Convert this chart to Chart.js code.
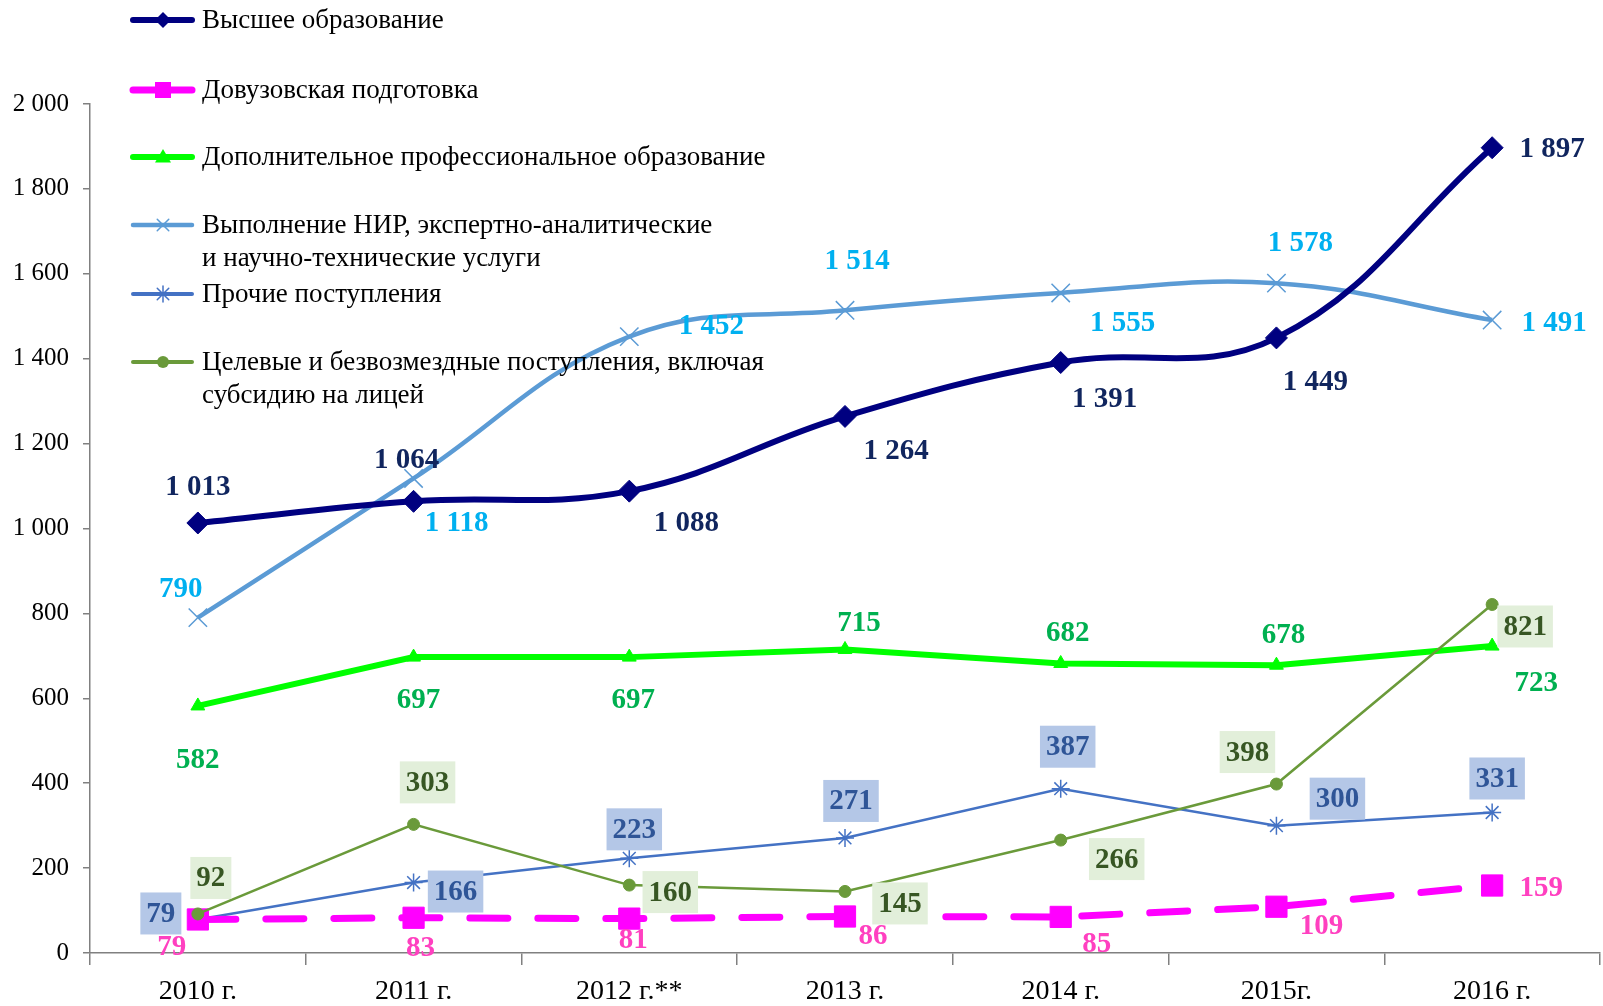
<!DOCTYPE html>
<html>
<head>
<meta charset="utf-8">
<script src="https://cdn.jsdelivr.net/npm/chart.js@4.4.1/dist/chart.umd.min.js"></script>
<style>
  html, body { margin: 0; padding: 0; background: #fff; overflow: hidden; }
  canvas { display: block; }
</style>
</head>
<body>
<canvas id="grafico" width="1603" height="1006"></canvas>
<script>
// --- datos ---
const anios = ['2010 г.', '2011 г.', '2012 г.**', '2013 г.', '2014 г.', '2015г.', '2016 г.'];

const superior = [1013, 1064, 1088, 1264, 1391, 1449, 1897];
const preuniversitaria = [79, 83, 81, 86, 85, 109, 159];
const adicional = [582, 697, 697, 715, 682, 678, 723];
const nir = [790, 1118, 1452, 1514, 1555, 1578, 1491];
const otros = [79, 166, 223, 271, 387, 300, 331];
const metas = [92, 303, 160, 145, 266, 398, 821];

const nombres = [
    ['Высшее образование'],
    ['Довузовская подготовка'],
    ['Дополнительное профессиональное образование'],
    ['Выполнение НИР, экспертно-аналитические', 'и научно-технические услуги'],
    ['Прочие поступления'],
    ['Целевые и безвозмездные поступления, включая', 'субсидию на лицей']
];

const ejeYMin = 0;
const ejeYMax = 2000;
const ejeYPaso = 200;

// desplazamiento de cada etiqueta respecto a su punto (px)
const desplazamientos = [
    [[0, -36], [-7, -42], [57, 31], [51, 34], [44, 36], [39, 44], [60, 1]],
    [[-26, 27], [7, 30], [4, 21], [28, 19], [36, 27], [45, 19], [49, 2]],
    [[0, 54], [5, 42], [4, 42], [14, -27], [7, -31], [7, -31], [44, 36]],
    [[-17, -29], [43, 44], [82, -11], [12, -50], [62, 30], [24, -41], [62, 2]],
    [[-37, -6], [42, 9], [5, -29], [6, -37], [7, -42], [61, -27], [5, -34]],
    [[13, -36], [14, -42], [41, 7], [55, 12], [56, 19], [-29, -32], [33, 22]]
];

const estilos = [
    { linea: '#000080', texto: '#10255E', caja: null, ancho: 6, punto: 'rectRot', radio: 11, tension: 0.4, dash: [], orden: 0 },
    { linea: '#FF00FF', texto: '#FF40C0', caja: null, ancho: 7, punto: 'rect', radio: 15, tension: 0, dash: [38, 30], orden: 2 },
    { linea: '#00FF00', texto: '#00B050', caja: null, ancho: 6, punto: 'triangle', radio: 8, tension: 0, dash: [], orden: 3 },
    { linea: '#5B9BD5', texto: '#00B0F0', caja: null, ancho: 4.5, punto: 'crossRot', radio: 13, tension: 0.4, dash: [], orden: 5 },
    { linea: '#4472C4', texto: '#2F5597', caja: '#B4C7E7', ancho: 2.5, punto: 'star', radio: 9, tension: 0, dash: [], orden: 4 },
    { linea: '#6A9A3A', texto: '#375623', caja: '#E2EFDA', ancho: 2.5, punto: 'circle', radio: 6, tension: 0, dash: [], orden: 1 }
];

const legendaY = [[20], [90], [157], [225, 258], [294], [362, 395]];

const fuente = '"Liberation Serif", "Times New Roman", serif';

function formatear(v) {
    return String(v).replace(/\B(?=(\d{3})+(?!\d))/g, ' ');
}

const series = [superior, preuniversitaria, adicional, nir, otros, metas];

const datasets = series.map((valores, i) => {
    const e = estilos[i];
    return {
        label: nombres[i].join(' '),
        data: valores,
        borderColor: e.linea,
        backgroundColor: e.linea,
        borderWidth: e.ancho,
        borderDash: e.dash,
        borderCapStyle: e.dash.length ? 'round' : 'butt',
        tension: e.tension,
        pointStyle: e.punto,
        pointRadius: e.radio,
        pointBorderWidth: (e.punto === 'crossRot' || e.punto === 'star') ? 1.5 : 1,
        pointBorderColor: e.linea,
        pointBackgroundColor: e.linea,
        order: e.orden,
        fill: false,
        clip: false
    };
});

function dibujarMarca(ctx, tipo, x, y, r, color) {
    ctx.save();
    ctx.fillStyle = color;
    ctx.strokeStyle = color;
    ctx.lineWidth = 1.5;
    ctx.beginPath();
    if (tipo === 'rectRot') {
        ctx.moveTo(x, y - r); ctx.lineTo(x + r, y); ctx.lineTo(x, y + r); ctx.lineTo(x - r, y); ctx.closePath(); ctx.fill();
    } else if (tipo === 'rect') {
        ctx.rect(x - r, y - r, 2 * r, 2 * r); ctx.fill();
    } else if (tipo === 'triangle') {
        ctx.moveTo(x, y - r); ctx.lineTo(x + r, y + r * 0.7); ctx.lineTo(x - r, y + r * 0.7); ctx.closePath(); ctx.fill();
    } else if (tipo === 'circle') {
        ctx.arc(x, y, r, 0, Math.PI * 2); ctx.fill();
    } else if (tipo === 'crossRot') {
        const d = r * 0.72;
        ctx.moveTo(x - d, y - d); ctx.lineTo(x + d, y + d); ctx.moveTo(x + d, y - d); ctx.lineTo(x - d, y + d); ctx.stroke();
    } else if (tipo === 'star') {
        const d = r * 0.72;
        ctx.moveTo(x - d, y - d); ctx.lineTo(x + d, y + d); ctx.moveTo(x + d, y - d); ctx.lineTo(x - d, y + d);
        ctx.moveTo(x, y - r); ctx.lineTo(x, y + r); ctx.stroke();
    }
    ctx.restore();
}

const etiquetasPlugin = {
    id: 'etiquetas',
    afterDatasetsDraw(chart) {
        const ctx = chart.ctx;
        ctx.save();
        ctx.font = 'bold 29px ' + fuente;
        ctx.textAlign = 'center';
        ctx.textBaseline = 'middle';
        series.forEach((valores, i) => {
            const meta = chart.getDatasetMeta(i);
            const e = estilos[i];
            valores.forEach((v, j) => {
                const p = meta.data[j];
                const x = p.x + desplazamientos[i][j][0];
                const y = p.y + desplazamientos[i][j][1];
                const txt = formatear(v);
                if (e.caja) {
                    const w = ctx.measureText(txt).width + 12;
                    ctx.fillStyle = e.caja;
                    ctx.fillRect(x - w / 2, y - 21, w, 42);
                }
                ctx.fillStyle = e.texto;
                ctx.fillText(txt, x, y + 1);
            });
        });
        ctx.restore();
    },
    afterDraw(chart) {
        // leyenda a mano, encima del gráfico
        const ctx = chart.ctx;
        ctx.save();
        ctx.font = '27px ' + fuente;
        ctx.textBaseline = 'middle';
        ctx.textAlign = 'left';
        nombres.forEach((lineas, i) => {
            const e = estilos[i];
            const y0 = legendaY[i][0];
            ctx.strokeStyle = e.linea;
            ctx.lineWidth = Math.max(e.ancho, 4);
            ctx.lineCap = 'round';
            ctx.beginPath();
            ctx.moveTo(133, y0);
            ctx.lineTo(192, y0);
            ctx.stroke();
            dibujarMarca(ctx, e.punto, 163, y0, Math.min(e.radio, 8), e.linea);
            ctx.fillStyle = '#000';
            lineas.forEach((t, k) => ctx.fillText(t, 202, legendaY[i][k] + 1));
        });
        ctx.restore();
    }
};

const ctx = document.getElementById('grafico');

new Chart(ctx, {
    type: 'line',
    data: { labels: anios, datasets: datasets },
    options: {
        responsive: false,
        animation: false,
        layout: { autoPadding: false, padding: { top: 104, right: 3, left: 0, bottom: 0 } },
        plugins: {
            legend: { display: false },
            tooltip: { enabled: false }
        },
        scales: {
            x: {
                offset: true,
                grid: { offset: true, drawOnChartArea: false, tickLength: 12, color: '#808080', lineWidth: 1.5 },
                border: { color: '#808080', width: 1.5 },
                ticks: { color: '#000', font: { family: fuente, size: 28 }, padding: 10, maxRotation: 0 },
                afterFit: (s) => { s.height = 53; s.paddingLeft = 0; s.paddingRight = 0; }
            },
            y: {
                min: ejeYMin,
                max: ejeYMax,
                grid: { drawOnChartArea: false, tickLength: 7, color: '#808080', lineWidth: 1.5 },
                border: { color: '#808080', width: 1.5 },
                ticks: {
                    stepSize: ejeYPaso,
                    color: '#000',
                    font: { family: fuente, size: 25 },
                    padding: 14,
                    callback: (v) => formatear(v)
                },
                afterFit: (s) => { s.width = 90; s.paddingTop = 0; s.paddingBottom = 0; }
            }
        }
    },
    plugins: [etiquetasPlugin]
});
</script>
</body>
</html>
